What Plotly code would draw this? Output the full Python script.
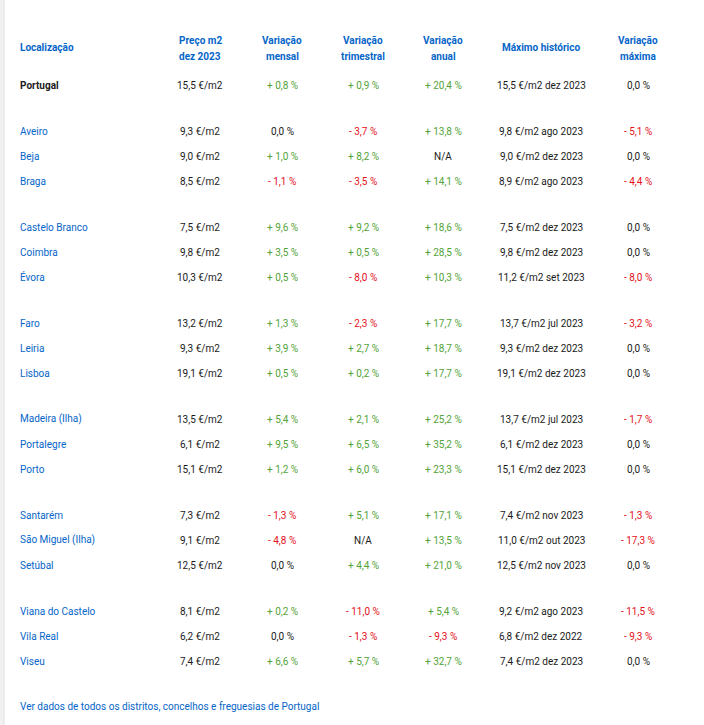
import plotly.graph_objects as go

locations = ["Portugal", "Aveiro", "Beja", "Braga", "Castelo Branco", "Coimbra", "Évora",
             "Faro", "Leiria", "Lisboa", "Madeira (Ilha)", "Portalegre", "Porto",
             "Santarém", "São Miguel (Ilha)", "Setúbal", "Viana do Castelo", "Vila Real", "Viseu"]
price = [15.5, 9.3, 9.0, 8.5, 7.5, 9.8, 10.3, 13.2, 9.3, 19.1, 13.5, 6.1, 15.1, 7.3, 9.1, 12.5, 8.1, 6.2, 7.4]
mensal = [0.8, 0.0, 1.0, -1.1, 9.6, 3.5, 0.5, 1.3, 3.9, 0.5, 5.4, 9.5, 1.2, -1.3, -4.8, 0.0, 0.2, 0.0, 6.6]
trimestral = [0.9, -3.7, 8.2, -3.5, 9.2, 0.5, -8.0, -2.3, 2.7, 0.2, 2.1, 6.5, 6.0, 5.1, None, 4.4, -11.0, -1.3, 5.7]
anual = [20.4, 13.8, None, 14.1, 18.6, 28.5, 10.3, 17.7, 18.7, 17.7, 25.2, 35.2, 23.3, 17.1, 13.5, 21.0, 5.4, -9.3, 32.7]
max_val = [15.5, 9.8, 9.0, 8.9, 7.5, 9.8, 11.2, 13.7, 9.3, 19.1, 13.7, 6.1, 15.1, 7.4, 11.0, 12.5, 9.2, 6.8, 7.4]
max_date = ["dez 2023", "ago 2023", "dez 2023", "ago 2023", "dez 2023", "dez 2023", "set 2023",
            "jul 2023", "dez 2023", "dez 2023", "jul 2023", "dez 2023", "dez 2023",
            "nov 2023", "out 2023", "nov 2023", "ago 2023", "dez 2022", "dez 2023"]
var_max = [0.0, -5.1, 0.0, -4.4, 0.0, 0.0, -8.0, -3.2, 0.0, 0.0, -1.7, 0.0, 0.0, -1.3, -17.3, 0.0, -11.5, -9.3, 0.0]

headers = [("Localização",), ("Preço m2", "dez 2023"), ("Variação", "mensal"),
           ("Variação", "trimestral"), ("Variação", "anual"), ("Máximo histórico",),
           ("Variação", "máxima")]
footer = "Ver dados de todos os distritos, concelhos e freguesias de Portugal"

FONT = "Roboto, sans-serif"
FS = 10
BLUE = "#0565c8"
GREEN = "#52a338"
RED = "#e3101a"
BLACK = "#1a1a1a"

col_x = [18, 200, 282, 363, 443, 541, 638]


def fmt_num(v):
    return f"{v:.1f}".replace(".", ",")


def fmt_pct(v):
    if v is None:
        return "N/A", BLACK
    if v > 0:
        return f"+ {fmt_num(v)} %", GREEN
    if v < 0:
        return f"- {fmt_num(-v)} %", RED
    return f"{fmt_num(v)} %", BLACK


def row_y(i):
    if i == 0:
        return 85
    k = i - 1
    return 131 + (k // 3) * 96 + (k % 3) * 25


ann = []
for j, h in enumerate(headers):
    ys = [47] if len(h) == 1 else [40, 56]
    for t, y in zip(h, ys):
        ann.append(dict(x=col_x[j], y=y, text=f"<b>{t}</b>", showarrow=False,
                        xanchor="left" if j == 0 else "center", yanchor="middle",
                        font=dict(family=FONT, size=FS, color=BLUE)))

for i, loc in enumerate(locations):
    y = row_y(i)
    if i == 0:
        ann.append(dict(x=col_x[0], y=y, text=f"<b>{loc}</b>", showarrow=False, xanchor="left",
                        yanchor="middle", font=dict(family=FONT, size=FS, color=BLACK)))
    else:
        ann.append(dict(x=col_x[0], y=y, text=loc, showarrow=False, xanchor="left",
                        yanchor="middle", font=dict(family=FONT, size=FS, color=BLUE)))
    cells = [(f"{fmt_num(price[i])} €/m2", BLACK),
             fmt_pct(mensal[i]), fmt_pct(trimestral[i]), fmt_pct(anual[i]),
             (f"{fmt_num(max_val[i])} €/m2 {max_date[i]}", BLACK),
             fmt_pct(var_max[i])]
    for j, (t, c) in enumerate(cells, start=1):
        ann.append(dict(x=col_x[j], y=y, text=t, showarrow=False, xanchor="center",
                        yanchor="middle", font=dict(family=FONT, size=FS, color=c)))

ann.append(dict(x=col_x[0], y=706, text=footer, showarrow=False, xanchor="left",
                yanchor="middle", font=dict(family=FONT, size=FS, color=BLUE)))

fig = go.Figure()
fig.update_layout(
    width=704, height=725, margin=dict(l=0, r=0, t=0, b=0),
    paper_bgcolor="white", plot_bgcolor="white",
    xaxis=dict(range=[0, 704], visible=False, fixedrange=True),
    yaxis=dict(range=[725, 0], visible=False, fixedrange=True),
    annotations=ann,
    shapes=[
        dict(type="rect", x0=0, x1=4, y0=0, y1=725, fillcolor="#f1f1f1", line=dict(width=0), layer="below"),
        dict(type="line", x0=4, x1=4, y0=0, y1=725, line=dict(color="#e0e0e0", width=1)),
    ],
    showlegend=False,
)
fig.write_html("out.html", config={"displayModeBar": False},
               post_script="document.body.style.margin='0';document.body.style.overflow='hidden';")
